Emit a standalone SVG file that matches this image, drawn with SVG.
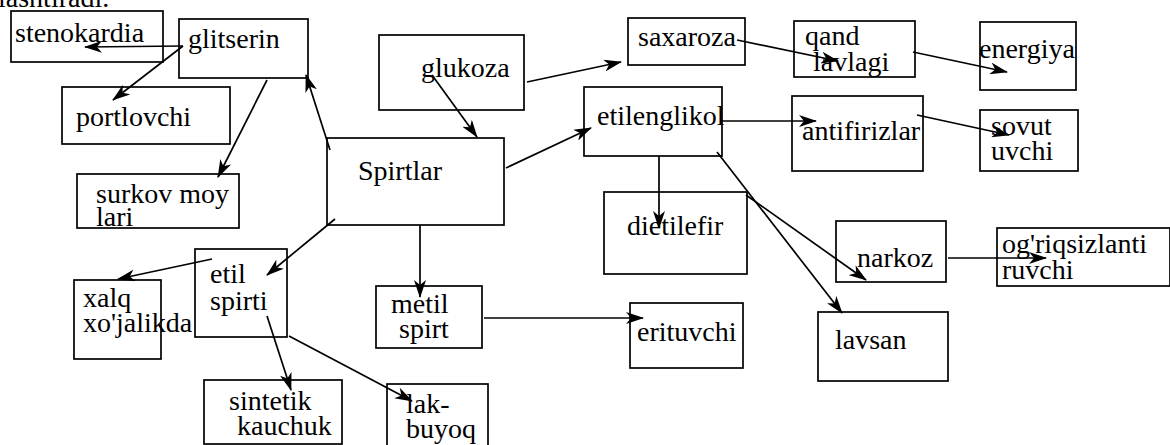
<svg xmlns="http://www.w3.org/2000/svg" width="1170" height="445" viewBox="0 0 1170 445">
<style>
.box{fill:#fff;stroke:#000;stroke-width:1.7}
text{font-family:'Liberation Serif','DejaVu Serif',serif;font-size:28px;fill:#000}
.c line{stroke:#000;stroke-width:1.7;marker-end:url(#ah)}
</style>
<defs>
<marker id="ah" viewBox="0 0 18 12" refX="17" refY="6" markerWidth="18" markerHeight="12" markerUnits="userSpaceOnUse" orient="auto">
<path d="M0,0 L18,6 L0,12 L5,6 Z" fill="#000"/>
</marker>
</defs>
<rect width="1170" height="445" fill="#fff"/>
<text x="-2" y="7">lashtiradi.</text>

<g id="n-stenokardia"><rect class="box" x="11" y="11" width="152" height="51"/><text x="15" y="42">stenokardia</text></g>
<g id="n-glitserin"><rect class="box" x="179" y="19" width="129" height="59"/><text x="188" y="48">glitserin</text></g>
<g id="n-portlovchi"><rect class="box" x="62" y="87" width="168" height="57"/><text x="76" y="126">portlovchi</text></g>
<g id="n-surkov"><rect class="box" x="77" y="174" width="162" height="54"/><text x="96" y="203">surkov moy</text><text x="96" y="226">lari</text></g>
<g id="n-glukoza"><rect class="box" x="379" y="35" width="145" height="75"/><text x="421" y="77">glukoza</text></g>
<g id="n-spirtlar"><rect class="box" x="327" y="138" width="177" height="87"/><text x="358" y="180">Spirtlar</text></g>
<g id="n-saxaroza"><rect class="box" x="628" y="18" width="117" height="47"/><text x="638" y="46">saxaroza</text></g>
<g id="n-etilenglikol"><rect class="box" x="584" y="87" width="138" height="69"/><text x="597" y="125">etilenglikol</text></g>
<g id="n-qand"><rect class="box" x="794" y="21" width="121" height="56"/><text x="805" y="45">qand</text><text x="813" y="71">lavlagi</text></g>
<g id="n-energiya"><rect class="box" x="980" y="22" width="96" height="68"/><text x="979" y="58">energiya</text></g>
<g id="n-antifirizlar"><rect class="box" x="792" y="96" width="131" height="75"/><text x="802" y="140">antifirizlar</text></g>
<g id="n-sovut"><rect class="box" x="980" y="110" width="98" height="61"/><text x="991" y="135">sovut</text><text x="991" y="160">uvchi</text></g>
<g id="n-dietilefir"><rect class="box" x="604" y="192" width="143" height="82"/><text x="627" y="235">dietilefir</text></g>
<g id="n-narkoz"><rect class="box" x="836" y="221" width="110" height="61"/><text x="857" y="267">narkoz</text></g>
<g id="n-ogriq"><rect class="box" x="997" y="228" width="173" height="58"/><text x="1002" y="253">og'riqsizlanti</text><text x="1002" y="279">ruvchi</text></g>
<g id="n-lavsan"><rect class="box" x="818" y="312" width="130" height="69"/><text x="835" y="349">lavsan</text></g>
<g id="n-erituvchi"><rect class="box" x="630" y="303" width="113" height="65"/><text x="637" y="341">erituvchi</text></g>
<g id="n-metil"><rect class="box" x="376" y="286" width="106" height="62"/><text x="391" y="313">metil</text><text x="399" y="338">spirt</text></g>
<g id="n-etil"><rect class="box" x="195" y="249" width="92" height="88"/><text x="210" y="283">etil</text><text x="210" y="310">spirti</text></g>
<g id="n-xalq"><rect class="box" x="74" y="280" width="87" height="79"/><text x="83" y="307">xalq</text><text x="83" y="332">xo'jalikda</text></g>
<g id="n-sintetik"><rect class="box" x="204" y="380" width="138" height="64"/><text x="229" y="410">sintetik</text><text x="237" y="435">kauchuk</text></g>
<g id="n-lak"><rect class="box" x="387" y="384" width="101" height="70"/><text x="406" y="413">lak-</text><text x="406" y="438">buyoq</text></g>

<g id="connectors" class="c">
<line x1="183" y1="46" x2="85" y2="47"/>
<line x1="183" y1="46" x2="113" y2="100"/>
<line x1="267" y1="80" x2="218" y2="177"/>
<line x1="330" y1="150" x2="306" y2="75"/>
<line x1="432" y1="75" x2="477" y2="137"/>
<line x1="527" y1="82" x2="621" y2="62"/>
<line x1="506" y1="168" x2="591" y2="128"/>
<line x1="737" y1="40" x2="838" y2="61"/>
<line x1="913" y1="52" x2="1007" y2="72"/>
<line x1="722" y1="121" x2="816" y2="121"/>
<line x1="917" y1="115" x2="1009" y2="135"/>
<line x1="659" y1="156" x2="659" y2="228"/>
<line x1="746" y1="195" x2="866" y2="280"/>
<line x1="717" y1="152" x2="842" y2="313"/>
<line x1="948" y1="258" x2="1046" y2="258"/>
<line x1="335" y1="219" x2="267" y2="275"/>
<line x1="212" y1="259" x2="118" y2="279"/>
<line x1="420" y1="225" x2="420" y2="297"/>
<line x1="267" y1="316" x2="291" y2="390"/>
<line x1="289" y1="336" x2="412" y2="401"/>
<line x1="484" y1="318" x2="643" y2="318"/>
</g>
</svg>
